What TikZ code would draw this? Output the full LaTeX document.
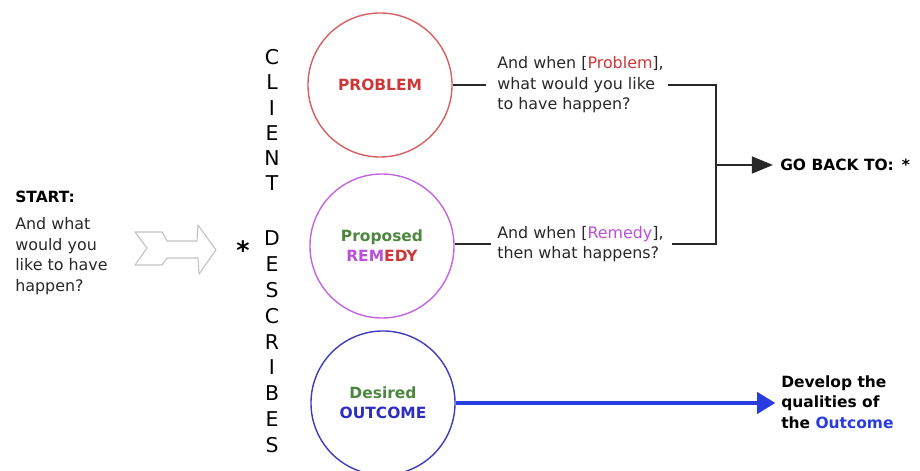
\documentclass[tikz,border=0pt]{standalone}
\usepackage{fontspec}
\setmainfont{DejaVu Sans}
\usetikzlibrary{arrows.meta}

\definecolor{ringred}{RGB}{215,95,95}
\definecolor{probred}{RGB}{205,55,55}
\definecolor{ringviolet}{RGB}{195,100,225}
\definecolor{remviolet}{RGB}{185,80,215}
\definecolor{leafgreen}{RGB}{75,135,60}
\definecolor{ringblue}{RGB}{60,60,190}
\definecolor{outblue}{RGB}{45,45,195}
\definecolor{arrowblue}{RGB}{40,60,225}
\definecolor{hollowgray}{RGB}{195,195,195}
\definecolor{inkgray}{RGB}{40,40,40}

\tikzset{
    ring/.style = {circle, draw, line width = 1pt, minimum size = 3.6cm, inner sep = 0pt,
                   font = \bfseries\fontsize{11}{14.2}\selectfont, align = center},
    body/.style = {inner sep = 0pt, align = left, text = inkgray,
                   font = \fontsize{11.3}{14.6}\selectfont},
    bold/.style = {body, font = \bfseries\fontsize{11}{14.4}\selectfont, text = black},
    letter/.style = {inner sep = 0pt, font = \fontsize{14.5}{16}\selectfont},
    link/.style = {color = inkgray, line width = 1.4pt},
}

\begin{document}
\begin{tikzpicture}[x = 0.025cm, y = -0.025cm]
        \useasboundingbox (0,0) rectangle (920,471);

        \node[bold, anchor = west] (start) at (15,197) {START:};
        \node[body, anchor = west] (startq) at (15,256) {And what\\would you\\like to have\\happen?};

        % hollow arrow
        \draw[color = hollowgray, line width = 0.8pt, line join = round]
            (135,232) -- (162,232) -- (167,241) -- (197,241) -- (198,225) -- (216,250)
            -- (199,274) -- (198,258) -- (167,258) -- (162,265) -- (135,265) -- (147,248) -- cycle;

        \node[letter, font = \bfseries\fontsize{18}{18}\selectfont] (mark) at (243,250) {*};

        \foreach \ch [count = \i] in {C,L,I,E,N,T}
        \node[letter] (client\i) at (272, {57 + 25.3*(\i-1)}) {\ch};
        \foreach \ch [count = \i] in {D,E,S,C,R,I,B,E,S}
        \node[letter] (describes\i) at (272, {238 + 25.9*(\i-1)}) {\ch};

        \node[ring, draw = ringred, text = probred] (problem) at (380,85) {PROBLEM};
        \node[ring, draw = ringviolet] (remedy) at (382,246)
            {\textcolor{leafgreen}{Proposed}\\\textcolor{remviolet}{REM}\textcolor{probred}{EDY}};
        \node[ring, draw = ringblue] (outcome) at (383,403)
            {\textcolor{leafgreen}{Desired}\\\textcolor{outblue}{OUTCOME}};

        \node[body, anchor = west] (probq) at (497,85) {And when [\textcolor{probred}{Problem}],\\what would you like\\to have happen?};
        \node[body, anchor = west] (remq) at (497,244) {And when [\textcolor{remviolet}{Remedy}],\\then what happens?};

        \coordinate (join) at (716,165);
        \node[bold, anchor = west] (goback) at (780,165) {GO BACK TO:\, *};
        \node[bold, anchor = west] (develop) at (781,402) {Develop the\\qualities of\\the \textcolor{arrowblue}{Outcome}};

        \draw[link, shorten > = 8pt] (problem) -- (probq);
        \draw[link, shorten < = 4pt] (remq.west) -- (remq.west -| remedy.east);
        \draw[link, shorten < = 3pt] (probq.east) -| (join);
        \draw[link, shorten < = 6pt] (remq.east) -| (join);
        \draw[link, -{Triangle[length = 15pt, width = 12pt]}, shorten > = 5pt] (join) -- (goback);

        \draw[color = arrowblue, line width = 2.8pt, -{Triangle[length = 13pt, width = 15pt]}, shorten > = 4pt] (outcome) -- (develop.west |- outcome);
\end{tikzpicture}
\end{document}
